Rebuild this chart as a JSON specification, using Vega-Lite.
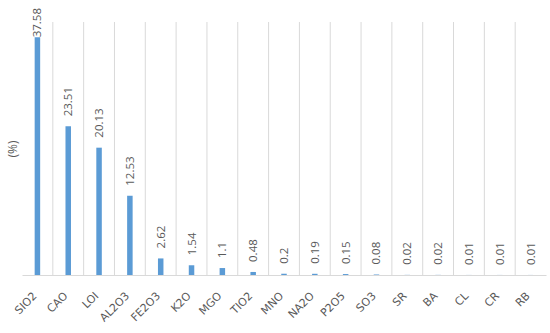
{
  "$schema": "https://vega.github.io/schema/vega-lite/v6.json",
  "width": 524,
  "height": 253,
  "autosize": {"type": "none"},
  "padding": {"left": 22, "top": 22, "right": 4, "bottom": 58},
  "background": "white",
  "config": {"view": {"stroke": null}, "font": "Open Sans"},
  "data": {
    "values": [
      {"oxide": "SIO2", "value": 37.58},
      {"oxide": "CAO", "value": 23.51},
      {"oxide": "LOI", "value": 20.13},
      {"oxide": "AL2O3", "value": 12.53},
      {"oxide": "FE2O3", "value": 2.62},
      {"oxide": "K2O", "value": 1.54},
      {"oxide": "MGO", "value": 1.1},
      {"oxide": "TIO2", "value": 0.48},
      {"oxide": "MNO", "value": 0.2},
      {"oxide": "NA2O", "value": 0.19},
      {"oxide": "P2O5", "value": 0.15},
      {"oxide": "SO3", "value": 0.08},
      {"oxide": "SR", "value": 0.02},
      {"oxide": "BA", "value": 0.02},
      {"oxide": "CL", "value": 0.01},
      {"oxide": "CR", "value": 0.01},
      {"oxide": "RB", "value": 0.01}
    ]
  },
  "encoding": {
    "x": {
      "field": "oxide",
      "type": "nominal",
      "sort": null,
      "scale": {"paddingInner": 0, "paddingOuter": 0},
      "axis": {
        "title": null,
        "labelAngle": -45,
        "labelAlign": "right",
        "labelBaseline": "middle",
        "labelPadding": 19,
        "labelOffset": -2,
        "labelFont": "DejaVu Sans",
        "labelFontSize": 11,
        "labelColor": "#595959",
        "ticks": false,
        "grid": false,
        "domainColor": "#D9D9D9",
        "domainWidth": 1
      }
    }
  },
  "layer": [
    {
      "transform": [{"filter": "datum.oxide !== 'RB'"}],
      "mark": {"type": "rule", "color": "#D9D9D9", "strokeWidth": 1},
      "encoding": {
        "x": {"field": "oxide", "type": "nominal", "sort": null, "bandPosition": 1}
      }
    },
    {
      "mark": {"type": "bar", "color": "#5B9BD5", "size": 5.5},
      "encoding": {
        "y": {
          "field": "value",
          "type": "quantitative",
          "scale": {"domain": [0, 40], "nice": false},
          "axis": {
            "title": "(%)",
            "labels": false,
            "ticks": false,
            "domain": false,
            "grid": false,
            "titleFontSize": 12,
            "titleFontWeight": "normal",
            "titleColor": "#595959",
            "titlePadding": 3
          }
        }
      }
    },
    {
      "transform": [{"filter": "datum.oxide === 'SIO2'"}],
      "mark": {"type": "text", "angle": -90, "align": "left", "baseline": "middle", "dx": 0, "dy": 1, "fontSize": 11.5, "color": "#595959"},
      "encoding": {
        "y": {"field": "value", "type": "quantitative"},
        "text": {"field": "value", "type": "nominal"}
      }
    },
    {
      "transform": [{"filter": "datum.oxide !== 'SIO2'"}],
      "mark": {"type": "text", "angle": -90, "align": "left", "baseline": "middle", "dx": 10, "dy": 1, "fontSize": 11.5, "color": "#595959"},
      "encoding": {
        "y": {"field": "value", "type": "quantitative"},
        "text": {"field": "value", "type": "nominal"}
      }
    }
  ]
}
